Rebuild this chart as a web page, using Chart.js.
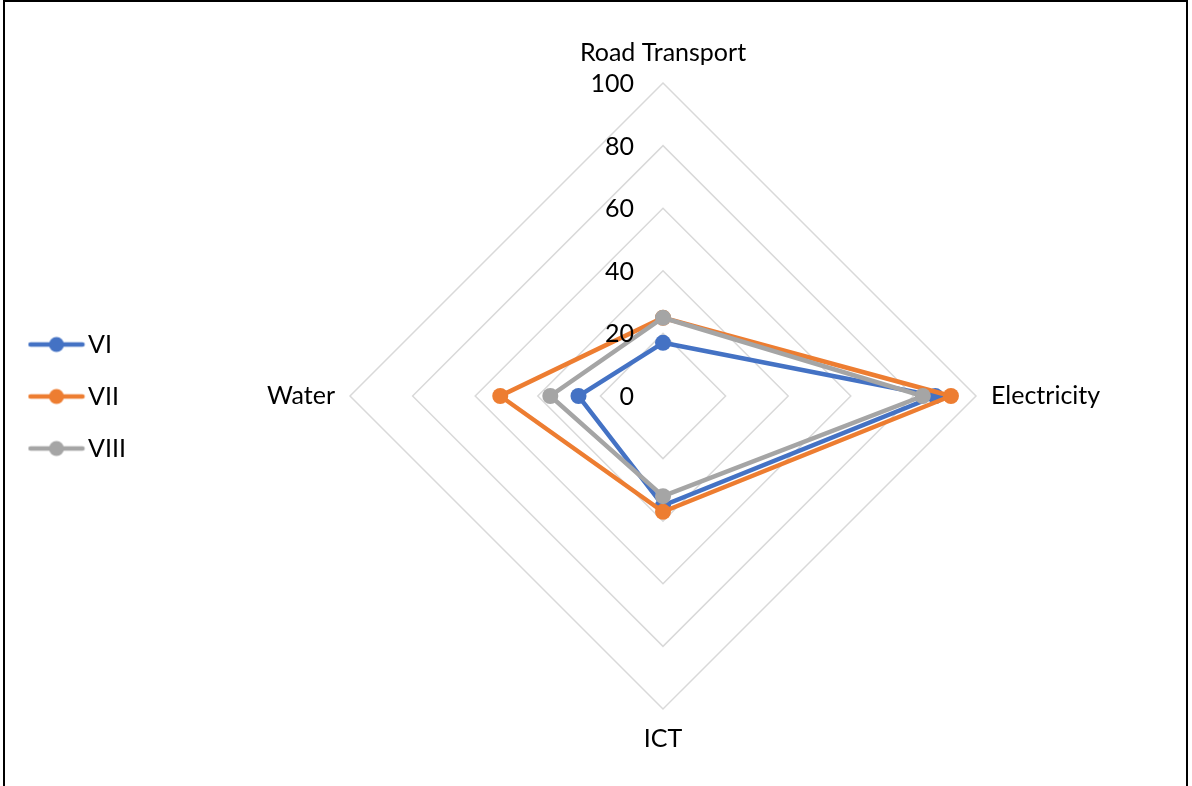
<!DOCTYPE html>
<html>
<head>
<meta charset="utf-8">
<script src="https://cdn.jsdelivr.net/npm/chart.js@4.4.1/dist/chart.umd.min.js"></script>
<style>
  html, body { margin: 0; padding: 0; background: #fff; }
  #frame {
    position: absolute; left: 3px; top: 0; width: 1185px; height: 800px;
    border: 2px solid #000; box-sizing: border-box;
  }
  #wrap { position: absolute; left: 0; top: 0; width: 1192px; height: 786px; }
</style>
</head>
<body>
<div id="frame"></div>
<div id="wrap"><canvas id="radarChart" width="1192" height="786"></canvas></div>
<script>
const categories = ["Road Transport", "Electricity", "ICT", "Water"];
const seriesNames = ["VI", "VII", "VIII"];
const valuesVI = [17, 87, 35, 27];
const valuesVII = [25, 92, 37, 52];
const valuesVIII = [25, 83, 32, 36];
const tickValues = [0, 20, 40, 60, 80, 100];

const colors = ["#4472C4", "#ED7D31", "#A5A5A5"];
const FONT = "Lato, 'Open Sans', sans-serif";
const FONT_SIZE = 25;

// legend marker: line with a dot in the middle
function legendMarker(color) {
    const c = document.createElement("canvas");
    c.width = 58;
    c.height = 18;
    const g = c.getContext("2d");
    g.strokeStyle = color;
    g.lineWidth = 4.5;
    g.lineCap = "round";
    g.beginPath();
    g.moveTo(3, 9);
    g.lineTo(55, 9);
    g.stroke();
    g.fillStyle = color;
    g.beginPath();
    g.arc(29, 9, 7.5, 0, Math.PI * 2);
    g.fill();
    return c;
}

// tick labels drawn to the left of the vertical axis
const tickLabelPlugin = {
    id: "tickLabels",
    afterDatasetsDraw(chart) {
        const scale = chart.scales.r;
        const ctx = chart.ctx;
        ctx.save();
        ctx.font = FONT_SIZE + "px " + FONT;
        ctx.fillStyle = "#000";
        ctx.textAlign = "right";
        ctx.textBaseline = "middle";
        tickValues.forEach(v => {
            const d = scale.getDistanceFromCenterForValue(v);
            ctx.fillText(String(v), scale.xCenter - 29, scale.yCenter - d + 1);
        });
        ctx.restore();
    }
};

const datasets = [valuesVI, valuesVII, valuesVIII].map((vals, i) => ({
    label: seriesNames[i],
    data: vals,
    borderColor: colors[i],
    backgroundColor: colors[i],
    pointBackgroundColor: colors[i],
    pointBorderColor: colors[i],
    borderWidth: 4.5,
    pointRadius: 8,
    pointBorderWidth: 0,
    fill: false,
    order: 3 - i,
}));

new Chart(document.getElementById("radarChart"), {
    type: "radar",
    data: { labels: categories, datasets },
    plugins: [tickLabelPlugin],
    options: {
        responsive: false,
        animation: false,
        layout: { padding: { top: 38, bottom: 31, left: 10.5, right: -5 } },
        plugins: {
            tooltip: { enabled: false },
            legend: {
                position: "left",
                labels: {
                    usePointStyle: true,
                    pointStyleWidth: 38,
                    padding: 27,
                    color: "#000",
                    font: { family: FONT, size: FONT_SIZE },
                    generateLabels(chart) {
                        return chart.data.datasets.map((ds, i) => ({
                            text: ds.label,
                            pointStyle: legendMarker(colors[i]),
                            fillStyle: colors[i],
                            strokeStyle: colors[i],
                            lineWidth: 0,
                            datasetIndex: i,
                        }));
                    },
                },
            },
        },
        scales: {
            r: {
                min: 0,
                max: 100,
                ticks: { stepSize: 20, display: false },
                grid: { circular: false, color: "#d9d9d9", lineWidth: 1.5 },
                angleLines: { display: false },
                pointLabels: {
                    color: "#000",
                    padding: 15,
                    font: { family: FONT, size: FONT_SIZE },
                },
            },
        },
    },
});
</script>
</body>
</html>
